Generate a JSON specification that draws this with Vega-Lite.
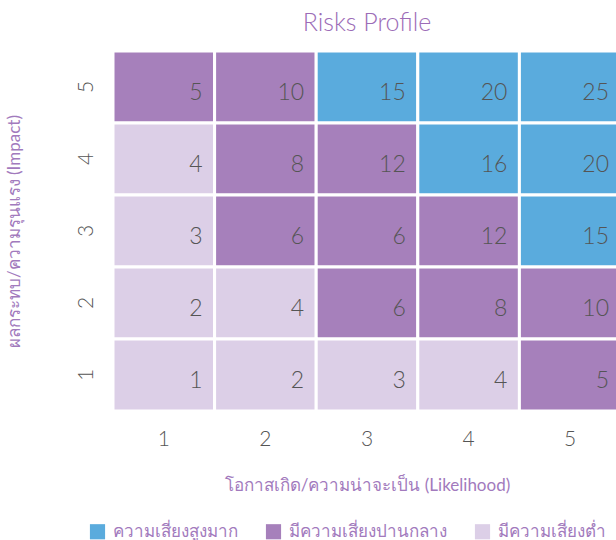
{
  "$schema": "https://vega.github.io/schema/vega-lite/v6.json",
  "autosize": {"type": "none"},
  "padding": {"left": 113, "top": 51, "right": 0, "bottom": 129},
  "width": 508,
  "height": 360,
  "background": "white",
  "title": {"text": "Risks Profile", "fontSize": 25, "font": "Lato", "fontWeight": 300, "color": "#9c6cb7", "anchor": "middle", "offset": 14},
  "config": {"view": {"stroke": null}, "font": "Lato"},
  "data": {"values": [
    {"likelihood": 1, "impact": 5, "score": 5, "level": "มีความเสี่ยงปานกลาง"},
    {"likelihood": 2, "impact": 5, "score": 10, "level": "มีความเสี่ยงปานกลาง"},
    {"likelihood": 3, "impact": 5, "score": 15, "level": "ความเสี่ยงสูงมาก"},
    {"likelihood": 4, "impact": 5, "score": 20, "level": "ความเสี่ยงสูงมาก"},
    {"likelihood": 5, "impact": 5, "score": 25, "level": "ความเสี่ยงสูงมาก"},
    {"likelihood": 1, "impact": 4, "score": 4, "level": "มีความเสี่ยงต่ำ"},
    {"likelihood": 2, "impact": 4, "score": 8, "level": "มีความเสี่ยงปานกลาง"},
    {"likelihood": 3, "impact": 4, "score": 12, "level": "มีความเสี่ยงปานกลาง"},
    {"likelihood": 4, "impact": 4, "score": 16, "level": "ความเสี่ยงสูงมาก"},
    {"likelihood": 5, "impact": 4, "score": 20, "level": "ความเสี่ยงสูงมาก"},
    {"likelihood": 1, "impact": 3, "score": 3, "level": "มีความเสี่ยงต่ำ"},
    {"likelihood": 2, "impact": 3, "score": 6, "level": "มีความเสี่ยงปานกลาง"},
    {"likelihood": 3, "impact": 3, "score": 6, "level": "มีความเสี่ยงปานกลาง"},
    {"likelihood": 4, "impact": 3, "score": 12, "level": "มีความเสี่ยงปานกลาง"},
    {"likelihood": 5, "impact": 3, "score": 15, "level": "ความเสี่ยงสูงมาก"},
    {"likelihood": 1, "impact": 2, "score": 2, "level": "มีความเสี่ยงต่ำ"},
    {"likelihood": 2, "impact": 2, "score": 4, "level": "มีความเสี่ยงต่ำ"},
    {"likelihood": 3, "impact": 2, "score": 6, "level": "มีความเสี่ยงปานกลาง"},
    {"likelihood": 4, "impact": 2, "score": 8, "level": "มีความเสี่ยงปานกลาง"},
    {"likelihood": 5, "impact": 2, "score": 10, "level": "มีความเสี่ยงปานกลาง"},
    {"likelihood": 1, "impact": 1, "score": 1, "level": "มีความเสี่ยงต่ำ"},
    {"likelihood": 2, "impact": 1, "score": 2, "level": "มีความเสี่ยงต่ำ"},
    {"likelihood": 3, "impact": 1, "score": 3, "level": "มีความเสี่ยงต่ำ"},
    {"likelihood": 4, "impact": 1, "score": 4, "level": "มีความเสี่ยงต่ำ"},
    {"likelihood": 5, "impact": 1, "score": 5, "level": "มีความเสี่ยงปานกลาง"}
  ]},
  "encoding": {
    "x": {"field": "likelihood", "type": "ordinal", "scale": {"paddingInner": 0, "paddingOuter": 0},
      "axis": {"title": "โอกาสเกิด/ความน่าจะเป็น (Likelihood)", "labelAngle": 0, "domain": false, "ticks": false,
        "labelFontSize": 21, "labelColor": "#555555", "labelFont": "Lato", "labelFontWeight": 300, "labelPadding": 17,
        "titleFontSize": 17, "titleColor": "#a27abd", "titleFontWeight": "normal", "titlePadding": 28}},
    "y": {"field": "impact", "type": "ordinal", "sort": "descending", "scale": {"paddingInner": 0, "paddingOuter": 0},
      "axis": {"title": "ผลกระทบ/ความรุนแรง (Impact)", "labelAngle": -90, "domain": false, "ticks": false,
        "labelFontSize": 21, "labelColor": "#555555", "labelFont": "Lato", "labelFontWeight": 300, "labelPadding": 17,
        "titleFontSize": 17, "titleColor": "#a27abd", "titleFontWeight": "normal", "titlePadding": 52}}
  },
  "layer": [
    {"mark": {"type": "rect", "stroke": "white", "strokeWidth": 3},
     "encoding": {"color": {"field": "level", "type": "nominal",
       "scale": {"domain": ["ความเสี่ยงสูงมาก", "มีความเสี่ยงปานกลาง", "มีความเสี่ยงต่ำ"], "range": ["#5aabdd", "#a680bb", "#dccfe7"]},
       "legend": {"title": null, "orient": "none", "legendX": -24, "legendY": 472, "direction": "horizontal",
         "symbolType": "square", "symbolSize": 230, "symbolStrokeWidth": 0, "symbolOpacity": 1,
         "labelFontSize": 17, "labelColor": "#a27abd", "labelLimit": 300, "columnPadding": 27, "labelOffset": 7}}}},
    {"mark": {"type": "text", "align": "right", "baseline": "middle", "dx": -12, "dy": 6, "fontSize": 23, "font": "Lato", "fontWeight": 300, "color": "#555555"},
     "encoding": {"x": {"field": "likelihood", "type": "ordinal", "bandPosition": 1}, "text": {"field": "score", "type": "quantitative"}}}
  ]
}
